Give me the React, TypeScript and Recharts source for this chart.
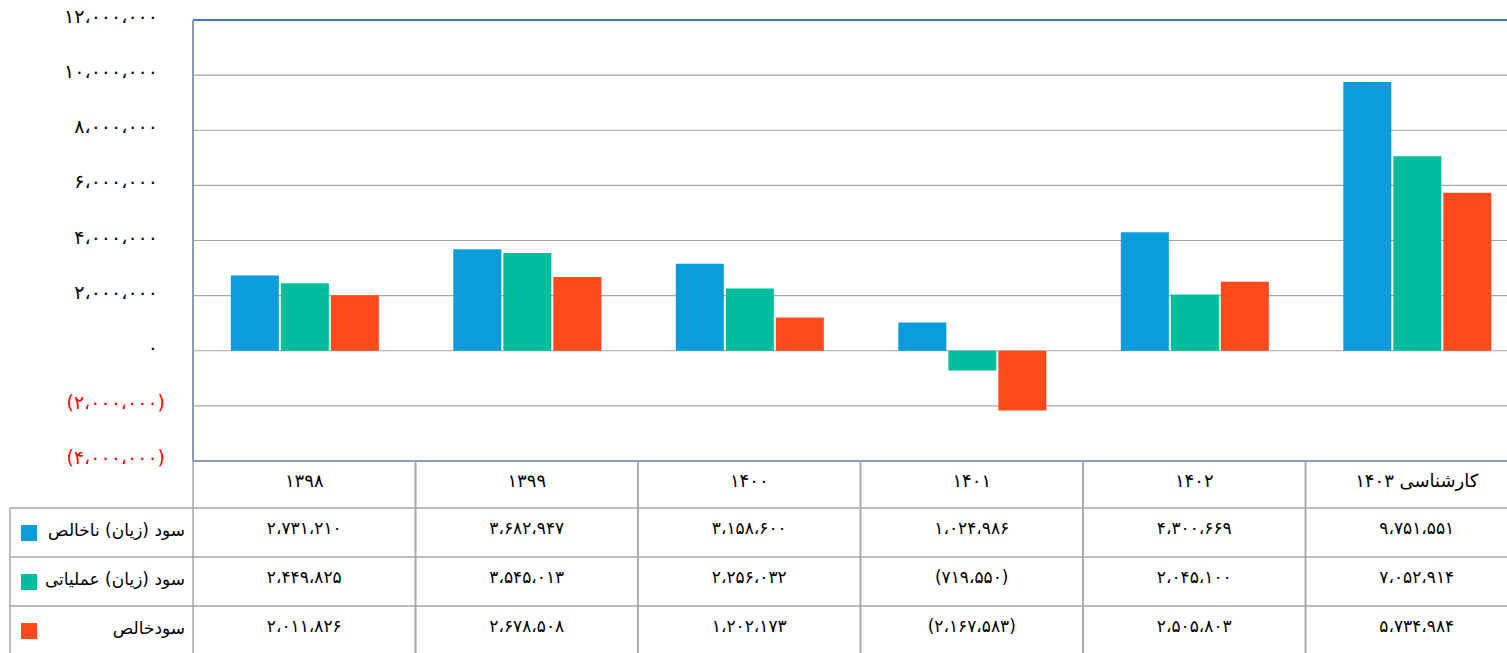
import { BarChart, Bar, XAxis, YAxis, CartesianGrid, ReferenceLine } from 'recharts';

const categories = ['۱۳۹۸', '۱۳۹۹', '۱۴۰۰', '۱۴۰۱', '۱۴۰۲', 'کارشناسی ۱۴۰۳'];
const grossProfit = [2731210, 3682947, 3158600, 1024986, 4300669, 9751551];
const operatingProfit = [2449825, 3545013, 2256032, -719550, 2045100, 7052914];
const netProfit = [2011826, 2678508, 1202173, -2167583, 2505803, 5734984];
const seriesNames = ['سود (زیان) ناخالص', 'سود (زیان) عملیاتی', 'سودخالص'];
const yTicks = [-4000000, -2000000, 0, 2000000, 4000000, 6000000, 8000000, 10000000, 12000000];

const series = [
  { key: 'gross', name: seriesNames[0], color: '#0A9BDB', values: grossProfit },
  { key: 'operating', name: seriesNames[1], color: '#00BE9B', values: operatingProfit },
  { key: 'net', name: seriesNames[2], color: '#FF4A1C', values: netProfit },
];

const data = categories.map((name, i) => ({
  name,
  gross: grossProfit[i],
  operating: operatingProfit[i],
  net: netProfit[i],
}));

const CHART_W = 1530;
const CHART_H = 660;
const PLOT_LEFT = 193;
const PLOT_TOP = 20;
const PLOT_BOTTOM = 461;
const COL_W = (CHART_W - 2 - PLOT_LEFT) / categories.length;
const ROW_LINES = [508, 557, 606, 655];
const FONT = '"DejaVu Sans", sans-serif';
const GRID = '#A6A6A6';
const FRAME = '#8A9BBB';

const faDigits = '۰۱۲۳۴۵۶۷۸۹';
function fa(n: number) {
  const s = Math.abs(n)
    .toString()
    .replace(/\B(?=(\d{3})+(?!\d))/g, '،')
    .replace(/\d/g, d => faDigits[Number(d)]);
  return n < 0 ? `(${s})` : s;
}

function YTick(props: any) {
  const { x, y, payload } = props;
  const v = payload.value as number;
  return (
    <text
      x={v < 0 ? x : x - 7}
      y={y + 3}
      textAnchor="end"
      fill={v < 0 ? '#FF0000' : '#000'}
      fontFamily={FONT}
      fontSize={19}
    >
      {fa(v)}
    </text>
  );
}

// each x tick draws its own column of the data table
function TableTick(props: any) {
  const { x, payload, index } = props;
  const left = x - COL_W / 2;
  const right = x + COL_W / 2;
  return (
    <g>
      <line x1={left} x2={left} y1={PLOT_BOTTOM} y2={CHART_H} stroke={GRID} strokeWidth={1.5} />
      <line x1={right} x2={right} y1={PLOT_BOTTOM} y2={CHART_H} stroke={GRID} strokeWidth={1.5} />
      <text x={x} y={487} textAnchor="middle" fontFamily={FONT} fontSize={18} fill="#000">
        {payload.value}
      </text>
      {ROW_LINES.slice(0, 3).map(ry => (
        <line key={ry} x1={left} x2={right} y1={ry} y2={ry} stroke={GRID} strokeWidth={1.5} />
      ))}
      {series.map((s, r) => (
        <text
          key={s.key}
          x={x}
          y={ROW_LINES[r] + 26}
          textAnchor="middle"
          fontFamily={FONT}
          fontSize={17}
          fill="#000"
        >
          {fa(s.values[index])}
        </text>
      ))}
      {index === 0 && (
        <g>
          <line x1={10} x2={10} y1={ROW_LINES[0]} y2={CHART_H} stroke={GRID} strokeWidth={1.5} />
          {ROW_LINES.slice(0, 3).map(ry => (
            <line key={ry} x1={10} x2={left} y1={ry} y2={ry} stroke={GRID} strokeWidth={1.5} />
          ))}
          {series.map((s, r) => (
            <g key={s.key}>
              <rect x={21} y={ROW_LINES[r] + 17} width={16} height={16} fill={s.color} />
              <text
                x={185}
                y={ROW_LINES[r] + 28}
                textAnchor="end"
                fontFamily={FONT}
                fontSize={17}
                fill="#000"
              >
                {s.name}
              </text>
            </g>
          ))}
        </g>
      )}
    </g>
  );
}

export default function App() {
  return (
    <div
      style={{
        position: 'fixed',
        left: 0,
        top: 0,
        width: 1507,
        height: 653,
        overflow: 'hidden',
        background: '#fff',
      }}
    >
      <BarChart
        width={CHART_W}
        height={CHART_H}
        data={data}
        margin={{ top: PLOT_TOP, right: 2, bottom: 0, left: 0 }}
        barCategoryGap="17%"
        barGap={2}
      >
        <CartesianGrid vertical={false} stroke={GRID} strokeWidth={1.2} />
        <YAxis
          width={PLOT_LEFT}
          domain={[-4000000, 12000000]}
          ticks={yTicks}
          interval={0}
          tickLine={false}
          tickMargin={22}
          axisLine={{ stroke: FRAME, strokeWidth: 2 }}
          tick={<YTick />}
        />
        <XAxis
          dataKey="name"
          height={CHART_H - PLOT_BOTTOM}
          interval={0}
          tickLine={false}
          axisLine={{ stroke: FRAME, strokeWidth: 2 }}
          tick={<TableTick />}
        />
        <ReferenceLine y={12000000} stroke="#4472C4" strokeWidth={2} />
        {series.map(s => (
          <Bar key={s.key} dataKey={s.key} name={s.name} fill={s.color} isAnimationActive={false} />
        ))}
      </BarChart>
    </div>
  );
}
